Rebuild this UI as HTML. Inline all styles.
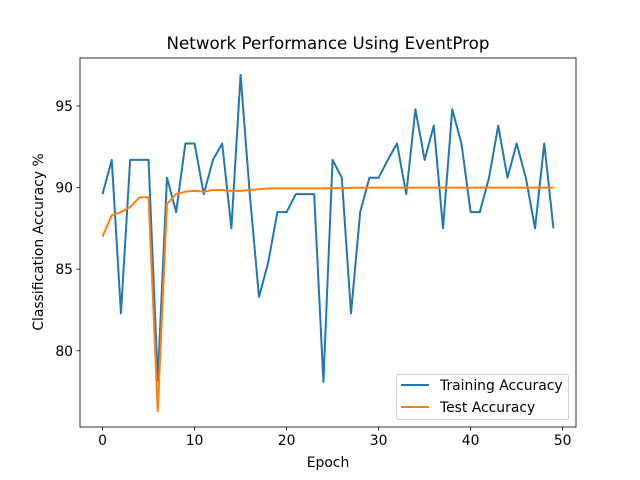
<!DOCTYPE html>
<html><head><meta charset="utf-8"><style>
body{margin:0;background:#fff}
svg{display:block;font-family:"DejaVu Sans","Liberation Sans",sans-serif}
</style></head><body>
<svg id="chart" width="640" height="480"></svg>
<script>
const epochs=[...Array(50).keys()];
const trainAcc=[89.6,91.7,82.3,91.7,91.7,91.7,78.2,90.6,88.5,92.7,92.7,89.6,91.7,92.7,87.5,96.9,89.6,83.3,85.4,88.5,88.5,89.6,89.6,89.6,78.1,91.7,90.6,82.3,88.5,90.6,90.6,91.7,92.7,89.6,94.8,91.7,93.8,87.5,94.8,92.7,88.5,88.5,90.6,93.8,90.6,92.7,90.6,87.5,92.7,87.5];
const testAcc=[87.0,88.3,88.5,88.8,89.4,89.4,76.3,89.0,89.6,89.75,89.8,89.75,89.85,89.85,89.8,89.8,89.85,89.9,89.95,89.95,89.95,89.95,89.95,89.95,89.95,89.97,89.97,89.98,90.0,90.0,90.0,90.0,90.0,90.0,90.0,90.0,90.0,90.0,90.0,90.0,90.0,90.0,90.0,90.0,90.0,90.0,90.0,90.0,90.0,90.0];
const xTicks=[0,10,20,30,40,50];
const yTicks=[80,85,90,95];
const L=80,R=576,T=58,B=427;
const xMin=-2.45,xMax=51.45,yMin=75.33,yMax=97.94;
const sx=v=>L+(v-xMin)/(xMax-xMin)*(R-L);
const sy=v=>B-(v-yMin)/(yMax-yMin)*(B-T);
const svg=document.getElementById('chart');
const NS='http://www.w3.org/2000/svg';
function mk(tag,attrs,parent){const e=document.createElementNS(NS,tag);for(const k in attrs)e.setAttribute(k,attrs[k]);(parent||svg).appendChild(e);return e;}
function txt(s,attrs){const e=mk('text',attrs);e.textContent=s;return e;}
const t=txt('Network Performance Using EventProp',{x:328,y:49,'text-anchor':'middle','font-size':16.7,fill:'#000'});


xTicks.forEach(v=>{
 const g=mk('g',{});
 
 
 mk('line',{x1:sx(v),x2:sx(v),y1:B,y2:B+3.5,stroke:'#000','stroke-width':0.8},g);
 const tt=mk('text',{x:sx(v),y:B+18,'text-anchor':'middle','font-size':13.9},g);tt.textContent=v;
});
yTicks.forEach(v=>{
 const g=mk('g',{});
 
 
 mk('line',{x1:L-3.5,x2:L,y1:sy(v),y2:sy(v),stroke:'#000','stroke-width':0.8},g);
 const tt=mk('text',{x:L-7,y:sy(v)+5,'text-anchor':'end','font-size':13.9},g);tt.textContent=v;
});
const xl=txt('Epoch',{x:328,y:467,'text-anchor':'middle','font-size':13.9});


const yl=txt('Classification Accuracy %',{x:0,y:0,'text-anchor':'middle','font-size':13.9,transform:'translate(43,242) rotate(-90)'});


function line(arr,color,name){
 const p=mk('polyline',{points:arr.map((v,i)=>sx(epochs[i])+','+sy(v)).join(' '),fill:'none',stroke:color,'stroke-width':2,'stroke-linejoin':'round'});
 
 
}
line(trainAcc,'#1f77b4','training-accuracy-line');
line(testAcc,'#ff7f0e','test-accuracy-line');
const frame=mk('rect',{x:L,y:T,width:R-L,height:B-T,fill:'none',stroke:'#000','stroke-width':0.8});


const lg=mk('g',{});


mk('rect',{x:396.5,y:374.5,width:172,height:45,rx:2,fill:'#fff',stroke:'#ccc','stroke-width':1,opacity:0.9},lg);
mk('line',{x1:401,x2:429,y1:385,y2:385,stroke:'#1f77b4','stroke-width':2},lg);
const l1=mk('text',{x:440,y:390,'font-size':13.9},lg);l1.textContent='Training Accuracy';
mk('line',{x1:401,x2:429,y1:407,y2:407,stroke:'#ff7f0e','stroke-width':2},lg);
const l2=mk('text',{x:440,y:412,'font-size':13.9},lg);l2.textContent='Test Accuracy';
</script>
</body></html>
